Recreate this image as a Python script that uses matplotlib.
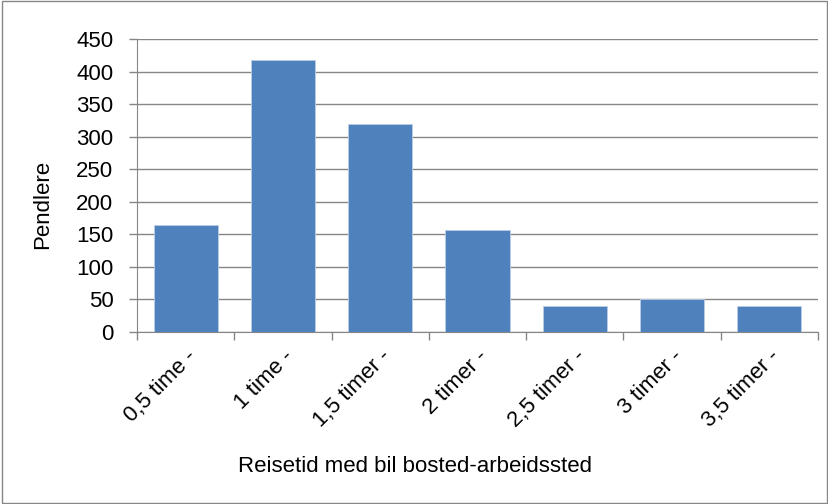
import matplotlib
matplotlib.use("Agg")
import matplotlib.pyplot as plt
import numpy as np

# Pendlere etter reisetid med bil
kategorier = ["0,5 time -", "1 time -", "1,5 timer -", "2 timer -",
              "2,5 timer -", "3 timer -", "3,5 timer -"]
pendlere = [165, 417, 319, 157, 40, 50, 40]
y_ticks = list(range(0, 451, 50))

plt.rcParams['font.family'] = ['Liberation Sans Narrow', 'Liberation Sans', 'DejaVu Sans']

fig = plt.figure(figsize=(8.29, 5.04), dpi=100)
ax = fig.add_axes([137 / 829, 1 - 332 / 504, (818 - 137) / 829, (332 - 39) / 504])

x = np.arange(len(kategorier))
ax.bar(x, pendlere, width=0.66, color="#4f81bd", edgecolor="#b9cde5",
       linewidth=0.6, zorder=3)

ax.set_xlim(-0.5, len(kategorier) - 0.5)
ax.set_ylim(0, 450)
ax.set_yticks(y_ticks)
ax.yaxis.grid(True, color="#868686", linewidth=1.0, zorder=0)

# kategorinavn mellom tickmerkene
ax.set_xticks(x)
ax.set_xticklabels(kategorier, rotation=45, ha="right", rotation_mode="anchor",
                   fontsize=16)
ax.set_xticks(np.arange(-0.5, len(kategorier)), minor=True)
ax.tick_params(axis="x", which="major", length=0, pad=10)
ax.tick_params(axis="x", which="minor", length=6, color="#868686", width=1)
ax.tick_params(axis="y", length=6, color="#868686", width=1, labelsize=16, pad=11)

for side in ["top", "right"]:
    ax.spines[side].set_visible(False)
ax.spines["left"].set_color("#868686")
ax.spines["bottom"].set_color("#868686")

fig.text(43 / 829, 1 - 204 / 504, "Pendlere", rotation=90,
         ha="center", va="center", fontsize=16)
fig.text(415 / 829, 1 - 467 / 504, "Reisetid med bil bosted-arbeidssted",
         ha="center", va="center", fontsize=16)

# ramme rundt hele figuren
fig.patches.append(plt.Rectangle((0.002, 0.002), 0.996, 0.996, transform=fig.transFigure,
                                 fill=False, edgecolor="#868686", linewidth=1))

fig.savefig("out.png", dpi=100)
